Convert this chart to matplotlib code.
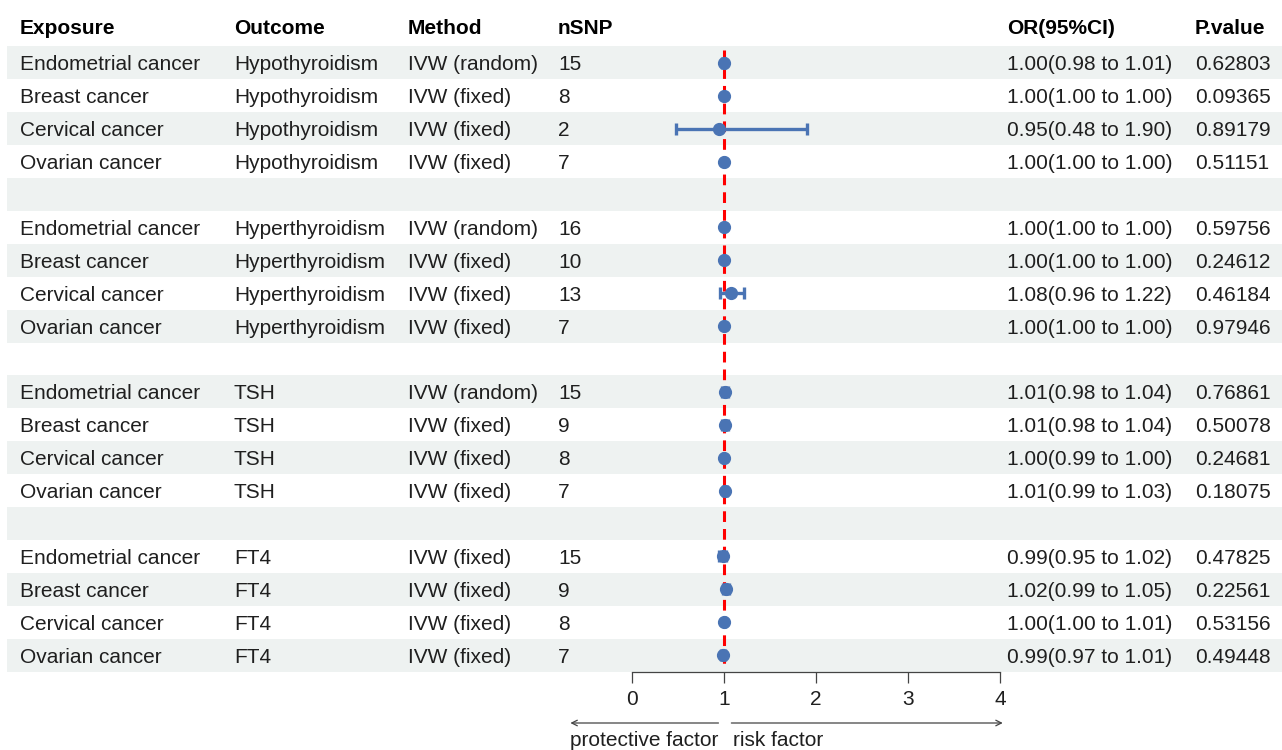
import matplotlib.pyplot as plt
from matplotlib.transforms import blended_transform_factory

plt.rcParams['font.family'] = ['Liberation Sans', 'DejaVu Sans']

groups = ["Hypothyroidism", "Hyperthyroidism", "TSH", "FT4"]
exposures = ["Endometrial cancer", "Breast cancer", "Cervical cancer", "Ovarian cancer"]
methods = [
    "IVW (random)", "IVW (fixed)", "IVW (fixed)", "IVW (fixed)",
    "IVW (random)", "IVW (fixed)", "IVW (fixed)", "IVW (fixed)",
    "IVW (random)", "IVW (fixed)", "IVW (fixed)", "IVW (fixed)",
    "IVW (fixed)", "IVW (fixed)", "IVW (fixed)", "IVW (fixed)",
]
nsnp = [15, 8, 2, 7, 16, 10, 13, 7, 15, 9, 8, 7, 15, 9, 8, 7]
or_val = [1.00, 1.00, 0.95, 1.00, 1.00, 1.00, 1.08, 1.00,
          1.01, 1.01, 1.00, 1.01, 0.99, 1.02, 1.00, 0.99]
ci_low = [0.98, 1.00, 0.48, 1.00, 1.00, 1.00, 0.96, 1.00,
          0.98, 0.98, 0.99, 0.99, 0.95, 0.99, 1.00, 0.97]
ci_high = [1.01, 1.00, 1.90, 1.00, 1.00, 1.00, 1.22, 1.00,
           1.04, 1.04, 1.00, 1.03, 1.02, 1.05, 1.01, 1.01]
pvals = ["0.62803", "0.09365", "0.89179", "0.51151",
         "0.59756", "0.24612", "0.46184", "0.97946",
         "0.76861", "0.50078", "0.24681", "0.18075",
         "0.47825", "0.22561", "0.53156", "0.49448"]
headers = ["Exposure", "Outcome", "Method", "nSNP", "OR(95%CI)", "P.value"]

W, H = 1282, 750
row_h = 32.9
row0 = 30.0  # header centre in pixels
n_rows = 19
dy = 0.06    # nudge text down a little inside its row

fig = plt.figure(figsize=(W / 100, H / 100), dpi=100)

# table layer: x in pixels, y in row units
tab = fig.add_axes([0, 0, 1, 1])
tab.set_xlim(0, W)
tab.set_ylim((H - row0) / row_h, -row0 / row_h)
tab.axis('off')

for r in range(1, n_rows + 1, 2):
    tab.fill_between([7, W], r - 0.5, r + 0.5, color='#EEF2F1', lw=0, zorder=0)

col_x = [20, 234, 408, 558, 1007, 1195]
fs = 15
for x, h in zip(col_x, headers):
    tab.text(x, -0.1 + dy, h, fontsize=fs, fontweight='bold', va='center', ha='left')

rows = []
for i in range(16):
    g, k = divmod(i, 4)
    r = g * 5 + k + 1
    rows.append(r)
    cells = [exposures[k], groups[g], methods[i], str(nsnp[i]),
             f"{or_val[i]:.2f}({ci_low[i]:.2f} to {ci_high[i]:.2f})", pvals[i]]
    for x, c in zip(col_x, cells):
        tab.text(x, r + dy, c, fontsize=fs, va='center', ha='left', color='#1f1f1f')

# forest panel
x0, x1 = 632, 1000
top = row0 + row_h * 0.5
bot = row0 + row_h * (n_rows + 0.5)
fx = fig.add_axes([x0 / W, 1 - bot / H, (x1 - x0) / W, (bot - top) / H])
fx.patch.set_alpha(0)
fx.set_xlim(0, 4)
fx.set_ylim(n_rows + 0.5, 0.5)
for s in ['top', 'left', 'right']:
    fx.spines[s].set_visible(False)
fx.spines['bottom'].set_color('#444444')
fx.spines['bottom'].set_linewidth(0.9)
fx.set_yticks([])
fx.set_xticks([0, 1, 2, 3, 4])
fx.tick_params(axis='x', length=8, width=0.9, color='#444444', pad=5,
               labelsize=fs, labelcolor='#1f1f1f')

fx.plot([1, 1], [0.6, n_rows + 0.45], color='#FF0000', lw=2.2,
        dashes=(3.5, 2.3), zorder=2)

err = [[o - l for o, l in zip(or_val, ci_low)],
       [h - o for o, h in zip(or_val, ci_high)]]
fx.errorbar(or_val, rows, xerr=err, fmt='o', color='#4A74B4', ms=8.5,
            elinewidth=2.4, capsize=4, capthick=2.4, zorder=3, clip_on=False)

# direction arrows under the axis
trans = blended_transform_factory(fx.transData, tab.transData)
ya = (723 - row0) / row_h
yl = (741 - row0) / row_h
arrow = dict(arrowstyle='->', color='#444444', lw=0.9, shrinkA=0, shrinkB=0)
fx.annotate('', xy=(-0.67, ya), xytext=(0.94, ya), xycoords=trans,
            textcoords=trans, arrowprops=arrow, annotation_clip=False)
fx.annotate('', xy=(4.03, ya), xytext=(1.08, ya), xycoords=trans,
            textcoords=trans, arrowprops=arrow, annotation_clip=False)
fx.text(-0.67, yl, 'protective factor', transform=trans, fontsize=fs,
        va='center', ha='left', color='#1f1f1f')
fx.text(1.10, yl, 'risk factor', transform=trans, fontsize=fs,
        va='center', ha='left', color='#1f1f1f')

fig.savefig('out.png', dpi=100)
plt.close()
